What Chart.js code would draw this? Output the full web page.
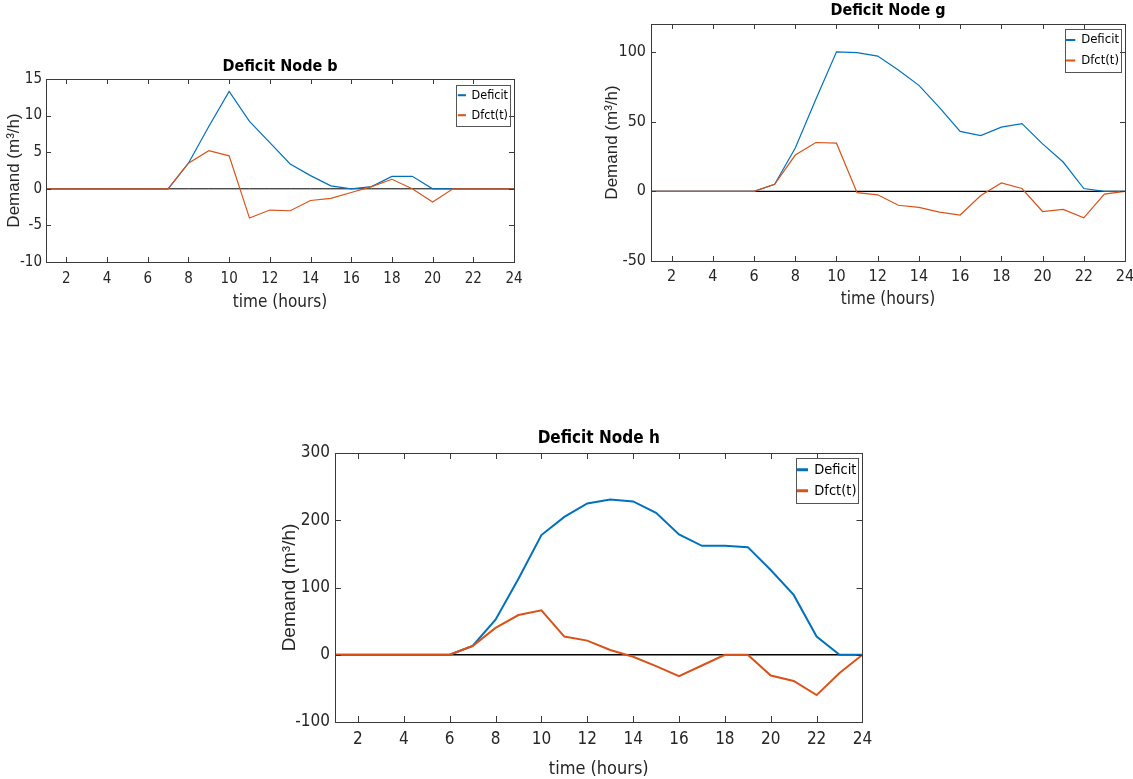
<!DOCTYPE html>
<html>
<head>
<meta charset="utf-8">
<script src="https://cdn.jsdelivr.net/npm/chart.js@4.4.0/dist/chart.umd.min.js"></script>
<style>
  html, body { margin: 0; padding: 0; background: #fff; overflow: hidden; width: 1133px; height: 779px; }
  .panel { position: absolute; }
</style>
</head>
<body>
<div class="panel" style="left:0px;top:45px;"><canvas id="nodeB" width="540" height="270"></canvas></div>
<div class="panel" style="left:590px;top:0px;"><canvas id="nodeG" width="560" height="320"></canvas></div>
<div class="panel" style="left:270px;top:420px;"><canvas id="nodeH" width="610" height="359"></canvas></div>
<script>
// hours on the x axis
const hours = [1, 2, 3, 4, 5, 6, 7, 8, 9, 10, 11, 12, 13, 14, 15, 16, 17, 18, 19, 20, 21, 22, 23, 24];
const xTicks = [2, 4, 6, 8, 10, 12, 14, 16, 18, 20, 22, 24];
const zeroLine = [0, 0, 0, 0, 0, 0, 0, 0, 0, 0, 0, 0, 0, 0, 0, 0, 0, 0, 0, 0, 0, 0, 0, 0];

// node b
const deficitB = [0, 0, 0, 0, 0, 0, 0, 3.5, 8.5, 13.3, 9.2, 6.3, 3.4, 1.8, 0.4, 0, 0.3, 1.7, 1.7, 0, 0, 0, 0, 0];
const dfctB = [0, 0, 0, 0, 0, 0, 0, 3.5, 5.2, 4.5, -4.0, -2.9, -3.0, -1.6, -1.3, -0.5, 0.3, 1.3, 0, -1.8, 0, 0, 0, 0];
const yTicksB = [-10, -5, 0, 5, 10, 15];

// node g
const deficitG = [0, 0, 0, 0, 0, 0, 5, 31, 66, 100, 99.5, 97, 87, 76, 60, 43, 40, 46, 48.5, 34, 21, 2, 0, 0];
const dfctG = [0, 0, 0, 0, 0, 0, 5, 26, 35, 34.5, -1, -2.5, -10, -11.5, -15, -17, -3, 6, 2, -14.5, -13, -19, -2, 0];
const yTicksG = [-50, 0, 50, 100];

// node h
const deficitH = [0, 0, 0, 0, 0, 0, 13, 52, 113, 178, 205, 225, 231, 228, 211, 179, 162, 162, 160, 126, 89, 27, 0, 0];
const dfctH = [0, 0, 0, 0, 0, 0, 13, 40, 59, 66, 27, 21, 7, -3, -17, -32, -16, 0, 0, -31, -39, -60, -27, 0];
const yTicksH = [-100, 0, 100, 200, 300];

const BLUE = '#0072BD';
const RED = '#D95319';
const AXIS = '#3a3a3a';
const NARROW = "'Liberation Sans Narrow', 'DejaVu Sans Condensed', 'Liberation Sans', sans-serif";
const SANS = "'Liberation Sans', Arial, sans-serif";

// legend frame size from the legend's own hit boxes
function legendFrame(chart) {
  const lg = chart.legend;
  const o = chart.options.plugins.matlabBox;
  const pad = chart.options.plugins.legend.labels.padding;
  const boxes = lg.legendHitBoxes;
  const ih = boxes[0].height;
  const w = Math.max(...boxes.map(h => h.width)) + o.mh * 2;
  const h = boxes.length * ih + (boxes.length - 1) * pad + o.mv * 2;
  return { w, h, pad };
}

// box round the plot, inward ticks on all sides, legend frame
const matlabBox = {
  id: 'matlabBox',
  afterLayout(chart) {
    const lg = chart.legend;
    const o = chart.options.plugins.matlabBox;
    if (!lg || !lg.legendHitBoxes.length) return;
    const ca = chart.chartArea;
    const f = legendFrame(chart);
    const fx = ca.right - o.insetX - f.w;
    const fy = ca.top + o.insetY;
    lg.left = fx + o.mh - f.pad;
    lg.right = lg.left + f.w + 2 * f.pad;
    lg.top = fy + o.mv - f.pad;
    lg._frame = { x: fx, y: fy, w: f.w, h: f.h };
  },
  afterDraw(chart) {
    const o = chart.options.plugins.matlabBox;
    const {ctx, chartArea: ca, scales} = chart;
    ctx.save();
    ctx.strokeStyle = AXIS;
    ctx.lineWidth = 1;
    ctx.beginPath();
    scales.x.ticks.forEach(t => {
      const px = Math.round(scales.x.getPixelForValue(t.value)) + 0.5;
      ctx.moveTo(px, ca.bottom); ctx.lineTo(px, ca.bottom - o.tick);
      ctx.moveTo(px, ca.top); ctx.lineTo(px, ca.top + o.tick);
    });
    scales.y.ticks.forEach(t => {
      const py = Math.round(scales.y.getPixelForValue(t.value)) + 0.5;
      ctx.moveTo(ca.left, py); ctx.lineTo(ca.left + o.tick, py);
      ctx.moveTo(ca.right, py); ctx.lineTo(ca.right - o.tick, py);
    });
    ctx.stroke();
    ctx.strokeRect(Math.round(ca.left) + 0.5, Math.round(ca.top) + 0.5,
      Math.round(ca.right - ca.left), Math.round(ca.bottom - ca.top));
    const fr = chart.legend && chart.legend._frame;
    if (fr) {
      ctx.strokeStyle = '#555';
      ctx.strokeRect(Math.round(fr.x) + 0.5, Math.round(fr.y) + 0.5, Math.round(fr.w), Math.round(fr.h));
    }
    ctx.restore();
  }
};

function drawNode(id, p) {
  const canvas = document.getElementById(id);
  const W = canvas.width, H = canvas.height;
  return new Chart(canvas, {
    type: 'line',
    data: {
      labels: hours,
      datasets: [
        { label: 'Deficit', data: p.deficit, borderColor: BLUE, backgroundColor: BLUE, borderWidth: p.lw, order: 1 },
        { label: 'Dfct(t)', data: p.dfct, borderColor: RED, backgroundColor: RED, borderWidth: p.lw, order: 0 },
        { label: 'zero', data: zeroLine, borderColor: '#000', backgroundColor: '#000', borderWidth: p.zw, order: 2 }
      ]
    },
    options: {
      responsive: false,
      animation: false,
      devicePixelRatio: 1,
      elements: { point: { radius: 0 }, line: { tension: 0 } },
      layout: { padding: { left: 0, right: W - p.R, top: 0, bottom: 0 } },
      scales: {
        x: {
          type: 'linear', min: 1, max: 24,
          afterBuildTicks: s => { s.ticks = xTicks.map(v => ({ value: v })); },
          afterFit: s => { s.height = H - p.B; },
          grid: { display: false, drawTicks: false },
          border: { display: false },
          ticks: { autoSkip: false, maxRotation: 0, padding: p.xPad, color: '#262626',
                   font: { family: NARROW, size: p.tickSize } },
          title: { display: true, text: 'time (hours)', color: '#262626',
                   font: { family: NARROW, size: p.xTitleSize, lineHeight: 1 },
                   padding: { top: 0, bottom: p.xTitlePad } }
        },
        y: {
          min: p.yMin, max: p.yMax,
          afterBuildTicks: s => { s.ticks = p.yTicks.map(v => ({ value: v })); },
          afterFit: s => { s.width = p.L; },
          grid: { display: false, drawTicks: false },
          border: { display: false },
          ticks: { padding: p.yPad, color: '#262626', font: { family: NARROW, size: p.tickSize } },
          title: { display: true, text: 'Demand (m³/h)', color: '#262626',
                   font: { family: SANS, size: p.yTitleSize, lineHeight: 1 },
                   padding: { top: p.yTitlePad, bottom: 0 } }
        }
      },
      plugins: {
        title: {
          display: true, text: p.title, fullSize: false, color: '#000',
          font: { family: NARROW, size: p.titleSize, weight: 'bold', lineHeight: 1 },
          padding: { top: p.titlePad, bottom: p.T - p.titlePad - p.titleSize }
        },
        legend: {
          position: 'chartArea', align: 'start',
          labels: {
            color: '#000', boxWidth: p.legBox, boxHeight: 1, padding: p.legPad,
            font: { family: NARROW, size: p.legSize },
            filter: item => item.datasetIndex !== 2,
            sort: (a, b) => a.datasetIndex - b.datasetIndex
          }
        },
        tooltip: { enabled: false },
        matlabBox: { tick: p.tick, insetX: 4, insetY: p.legInsetY, mh: 2, mv: p.legMv }
      }
    },
    plugins: [matlabBox]
  });
}

drawNode('nodeB', {
  title: 'Deficit Node b', deficit: deficitB, dfct: dfctB, yTicks: yTicksB, yMin: -10, yMax: 15,
  L: 46, R: 514, T: 34, B: 217, lw: 1.2, zw: 1, tick: 5,
  titleSize: 16, titlePad: 14, tickSize: 15, xPad: 8, yPad: 4,
  xTitleSize: 17, xTitlePad: 3.5, yTitleSize: 17, yTitlePad: 5.5,
  legSize: 12.5, legBox: 7, legPad: 7.5, legInsetY: 6, legMv: 4
});

drawNode('nodeG', {
  title: 'Deficit Node g', deficit: deficitG, dfct: dfctG, yTicks: yTicksG, yMin: -50, yMax: 120,
  L: 61, R: 535, T: 24, B: 261, lw: 1.2, zw: 1.3, tick: 5,
  titleSize: 16, titlePad: 3, tickSize: 16, xPad: 6.5, yPad: 5,
  xTitleSize: 17, xTitlePad: 12, yTitleSize: 17, yTitlePad: 13.5,
  legSize: 13, legBox: 8, legPad: 7.5, legInsetY: 5, legMv: 4.5
});

drawNode('nodeH', {
  title: 'Deficit Node h', deficit: deficitH, dfct: dfctH, yTicks: yTicksH, yMin: -100, yMax: 300,
  L: 65, R: 593, T: 33, B: 302, lw: 2, zw: 1.3, tick: 6,
  titleSize: 17, titlePad: 10, tickSize: 17, xPad: 7.8, yPad: 5,
  xTitleSize: 18, xTitlePad: 1, yTitleSize: 19, yTitlePad: 10.5,
  legSize: 14.5, legBox: 9, legPad: 6.5, legInsetY: 5, legMv: 4.5
});
</script>
</body>
</html>
